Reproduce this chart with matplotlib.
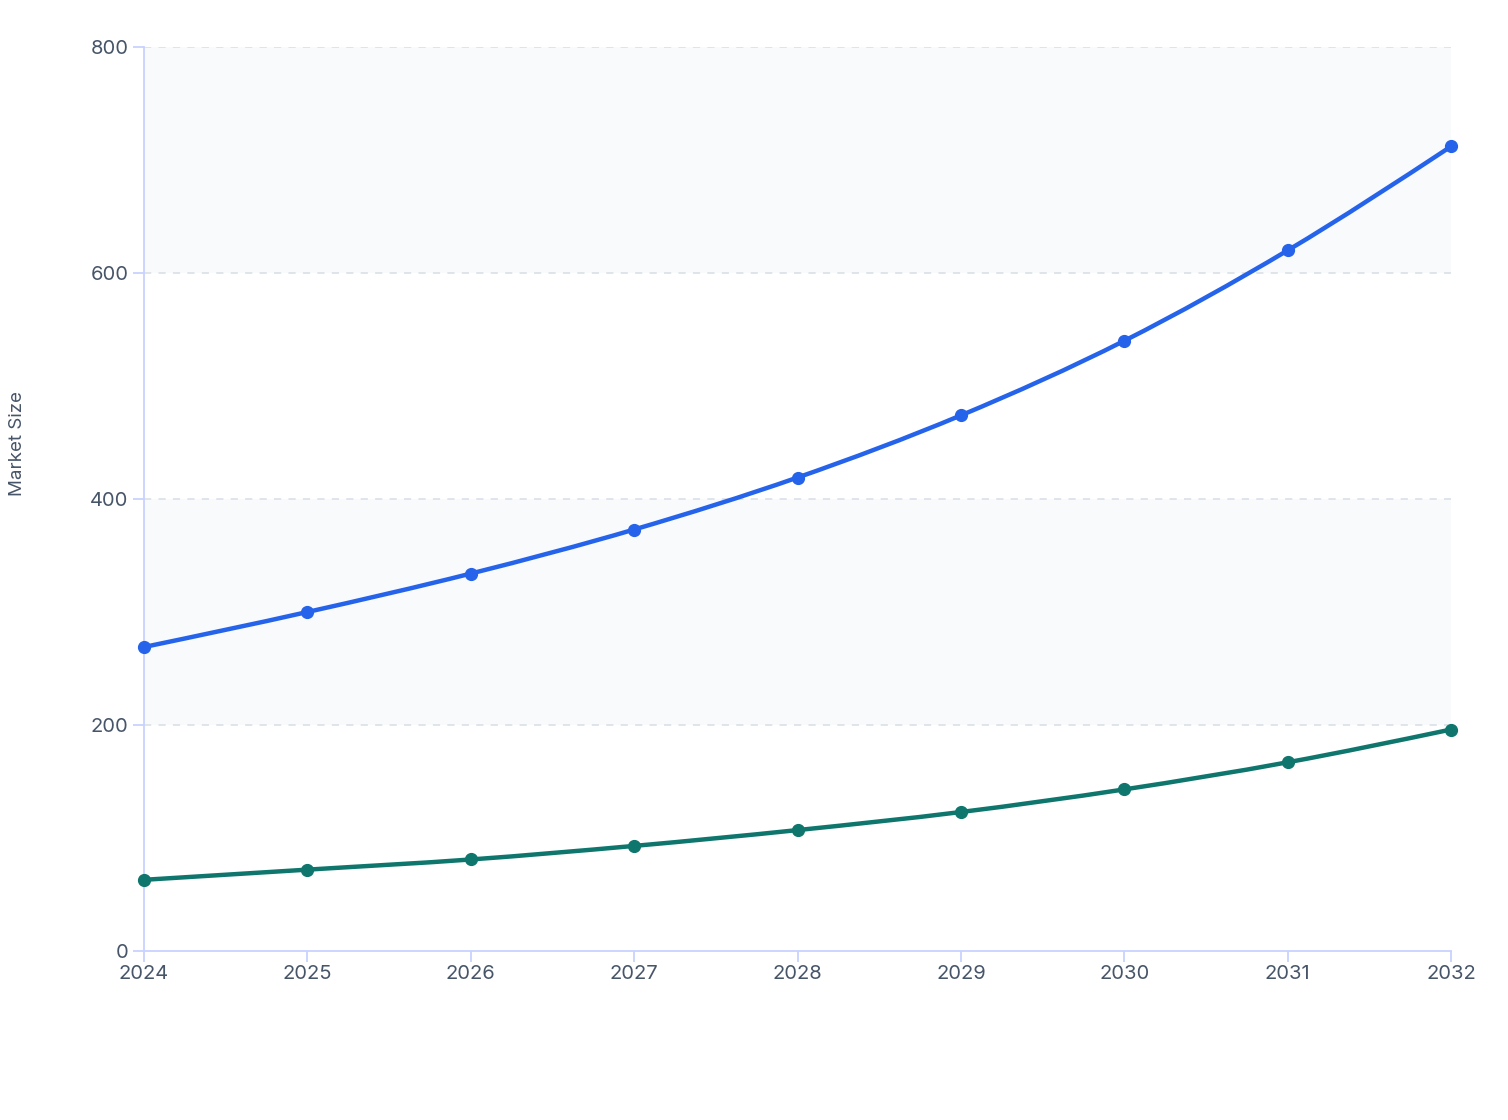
import numpy as np
import matplotlib
matplotlib.use("Agg")
import matplotlib.pyplot as plt
from matplotlib.path import Path
from matplotlib.patches import PathPatch

years = [2024, 2025, 2026, 2027, 2028, 2029, 2030, 2031, 2032]
series_a = [269, 300, 334, 373, 419, 474, 540, 620, 712]
series_b = [63, 72, 81, 93, 107, 123, 143, 167, 196]
color_a = "#2563eb"
color_b = "#0f766e"
y_ticks = [0, 200, 400, 600, 800]

plt.rcParams['font.family'] = ['Inter', 'DejaVu Sans']

fig = plt.figure(figsize=(15.08, 11.2), dpi=100)
ax = fig.add_axes([144/1508, 1 - 951/1120, (1451-144)/1508, (951-47)/1120])


def monotone_path(x, y):
    x = np.asarray(x, float); y = np.asarray(y, float)
    n = len(x)
    h = np.diff(x); s = np.diff(y) / h
    t = np.zeros(n)
    for i in range(1, n - 1):
        if s[i-1] * s[i] <= 0:
            t[i] = 0
        else:
            p = (s[i-1] * h[i] + s[i] * h[i-1]) / (h[i-1] + h[i])
            t[i] = (np.sign(s[i-1]) + np.sign(s[i])) * min(abs(s[i-1]), abs(s[i]), 0.5 * abs(p))
    t[0] = (3 * s[0] - t[1]) / 2 if n > 2 else s[0]
    t[-1] = (3 * s[-1] - t[-2]) / 2 if n > 2 else s[-1]
    verts = [(x[0], y[0])]
    codes = [Path.MOVETO]
    for i in range(n - 1):
        dx = h[i] / 3
        verts += [(x[i] + dx, y[i] + dx * t[i]), (x[i+1] - dx, y[i+1] - dx * t[i+1]), (x[i+1], y[i+1])]
        codes += [Path.CURVE4] * 3
    return Path(verts, codes)


# alternating bands
for i in range(len(y_ticks) - 1):
    if i % 2 == 1:
        ax.axhspan(y_ticks[i], y_ticks[i+1], color="#f8fafc", zorder=0, lw=0)

for yv in y_ticks[1:]:
    ax.axhline(yv, color="#dde2ea", lw=1.3, ls=(0, (4, 4)), zorder=1)

for vals, col in [(series_a, color_a), (series_b, color_b)]:
    ax.add_patch(PathPatch(monotone_path(years, vals), facecolor="none", edgecolor=col,
                           lw=3.2, zorder=3, capstyle="round", joinstyle="round"))
    ax.plot(years, vals, "o", color=col, ms=8.5, zorder=4, clip_on=False)

ax.set_xlim(years[0], years[-1])
ax.set_ylim(0, 800)
ax.set_xticks(years)
ax.set_xticklabels([str(y) for y in years])
ax.set_yticks(y_ticks)

for side in ["top", "right"]:
    ax.spines[side].set_visible(False)
for side in ["left", "bottom"]:
    ax.spines[side].set_color("#c7d2fe")
    ax.spines[side].set_linewidth(1.3)
ax.tick_params(axis="both", colors="#c7d2fe", length=8, width=1.3, labelsize=14.5,
               labelcolor="#475569")
ax.tick_params(axis="x", pad=2)
ax.tick_params(axis="y", pad=3)
ax.set_ylabel("Market Size", fontsize=13.5, color="#475569")
ax.yaxis.set_label_coords(-118/1307, (951-443)/904)
ax.set_facecolor("white")

fig.savefig("out.png", dpi=100, facecolor="white")
